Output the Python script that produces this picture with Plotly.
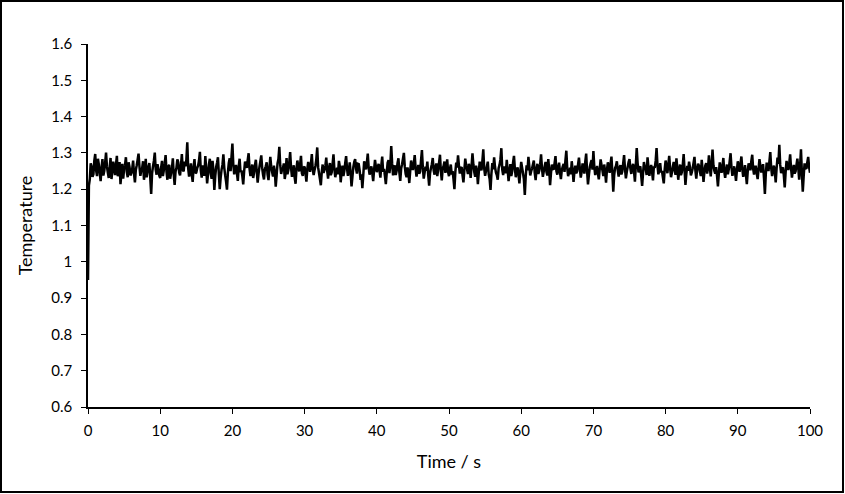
import plotly.graph_objects as go

# Temperature trace, one reading every 0.125 s
temperature = [
    0.95, 1.21, 1.228, 1.271, 1.262, 1.234, 1.241, 1.279, 1.297, 1.252, 1.236, 1.284, 1.268, 1.245, 1.222, 1.259, 1.283, 1.238, 1.25, 1.273,
    1.301, 1.262, 1.245, 1.231, 1.259, 1.286, 1.228, 1.249, 1.276, 1.257, 1.239, 1.268, 1.292, 1.236, 1.247, 1.275, 1.214, 1.243, 1.27, 1.229,
    1.255, 1.266, 1.288, 1.247, 1.233, 1.274, 1.261, 1.238, 1.244, 1.256, 1.279, 1.242, 1.219, 1.253, 1.266, 1.281, 1.298, 1.263, 1.237, 1.251,
    1.258, 1.277, 1.226, 1.245, 1.284, 1.233, 1.249, 1.262, 1.272, 1.231, 1.187, 1.244, 1.263, 1.278, 1.301, 1.254, 1.24, 1.269, 1.256, 1.237,
    1.231, 1.259, 1.278, 1.236, 1.252, 1.271, 1.294, 1.248, 1.226, 1.263, 1.267, 1.229, 1.243, 1.257, 1.285, 1.241, 1.212, 1.248, 1.259, 1.282,
    1.274, 1.246, 1.238, 1.265, 1.297, 1.253, 1.249, 1.276, 1.263, 1.281, 1.329, 1.258, 1.235, 1.247, 1.271, 1.239, 1.22, 1.261, 1.283, 1.244,
    1.246, 1.258, 1.265, 1.279, 1.303, 1.251, 1.232, 1.266, 1.257, 1.237, 1.291, 1.255, 1.216, 1.242, 1.269, 1.284, 1.243, 1.229, 1.278, 1.252,
    1.198, 1.236, 1.261, 1.273, 1.288, 1.241, 1.2, 1.232, 1.254, 1.267, 1.296, 1.259, 1.238, 1.221, 1.199, 1.246, 1.272, 1.285, 1.25, 1.289,
    1.326, 1.268, 1.241, 1.255, 1.267, 1.244, 1.223, 1.262, 1.284, 1.247, 1.252, 1.236, 1.213, 1.249, 1.276, 1.264, 1.259, 1.281, 1.299, 1.256,
    1.236, 1.252, 1.268, 1.231, 1.245, 1.266, 1.281, 1.249, 1.218, 1.243, 1.262, 1.277, 1.293, 1.258, 1.239, 1.227, 1.256, 1.263, 1.274, 1.24,
    1.225, 1.257, 1.289, 1.262, 1.247, 1.235, 1.265, 1.248, 1.207, 1.238, 1.271, 1.283, 1.317, 1.266, 1.242, 1.254, 1.258, 1.271, 1.228, 1.245,
    1.286, 1.241, 1.253, 1.274, 1.302, 1.259, 1.234, 1.248, 1.266, 1.232, 1.215, 1.257, 1.279, 1.262, 1.249, 1.268, 1.292, 1.244, 1.237, 1.26,
    1.262, 1.243, 1.221, 1.256, 1.275, 1.261, 1.248, 1.27, 1.297, 1.255, 1.239, 1.252, 1.264, 1.283, 1.315, 1.26, 1.244, 1.228, 1.211, 1.247,
    1.268, 1.245, 1.253, 1.264, 1.287, 1.251, 1.229, 1.258, 1.272, 1.239, 1.246, 1.269, 1.296, 1.255, 1.233, 1.247, 1.259, 1.241, 1.278, 1.263,
    1.219, 1.248, 1.265, 1.236, 1.25, 1.272, 1.291, 1.257, 1.237, 1.249, 1.274, 1.246, 1.208, 1.234, 1.261, 1.275, 1.283, 1.256, 1.243, 1.27,
    1.269, 1.252, 1.226, 1.241, 1.203, 1.238, 1.277, 1.261, 1.255, 1.273, 1.298, 1.259, 1.24, 1.254, 1.263, 1.244, 1.222, 1.253, 1.281, 1.262,
    1.247, 1.259, 1.27, 1.251, 1.232, 1.266, 1.29, 1.248, 1.256, 1.237, 1.214, 1.245, 1.273, 1.28, 1.244, 1.267, 1.319, 1.271, 1.238, 1.255,
    1.266, 1.239, 1.251, 1.272, 1.285, 1.246, 1.223, 1.257, 1.269, 1.284, 1.3, 1.262, 1.242, 1.233, 1.26, 1.248, 1.217, 1.25, 1.279, 1.264,
    1.253, 1.27, 1.294, 1.258, 1.235, 1.249, 1.267, 1.243, 1.248, 1.279, 1.308, 1.26, 1.229, 1.246, 1.262, 1.251, 1.276, 1.238, 1.21, 1.244,
    1.258, 1.269, 1.286, 1.252, 1.24, 1.261, 1.271, 1.236, 1.254, 1.273, 1.295, 1.249, 1.224, 1.257, 1.264, 1.276, 1.245, 1.262, 1.282, 1.247,
    1.236, 1.255, 1.268, 1.241, 1.25, 1.228, 1.2, 1.247, 1.273, 1.26, 1.293, 1.265, 1.243, 1.258, 1.261, 1.238, 1.219, 1.252, 1.284, 1.266,
    1.255, 1.242, 1.27, 1.258, 1.231, 1.263, 1.299, 1.268, 1.247, 1.234, 1.265, 1.251, 1.214, 1.246, 1.276, 1.259, 1.252, 1.278, 1.31, 1.257,
    1.237, 1.25, 1.263, 1.276, 1.241, 1.229, 1.198, 1.243, 1.272, 1.255, 1.288, 1.261, 1.246, 1.239, 1.226, 1.258, 1.267, 1.282, 1.313, 1.254,
    1.239, 1.262, 1.258, 1.244, 1.281, 1.253, 1.222, 1.247, 1.269, 1.236, 1.249, 1.274, 1.292, 1.256, 1.233, 1.251, 1.26, 1.241, 1.216, 1.248,
    1.275, 1.259, 1.244, 1.227, 1.184, 1.235, 1.266, 1.252, 1.289, 1.263, 1.238, 1.249, 1.257, 1.268, 1.279, 1.245, 1.225, 1.256, 1.27, 1.242,
    1.251, 1.267, 1.296, 1.258, 1.234, 1.249, 1.263, 1.275, 1.247, 1.238, 1.283, 1.255, 1.211, 1.244, 1.268, 1.257, 1.254, 1.272, 1.291, 1.25,
    1.24, 1.261, 1.273, 1.246, 1.228, 1.253, 1.262, 1.27, 1.248, 1.279, 1.306, 1.258, 1.236, 1.247, 1.259, 1.241, 1.277, 1.253, 1.22, 1.249,
    1.265, 1.244, 1.25, 1.268, 1.287, 1.256, 1.232, 1.248, 1.271, 1.259, 1.243, 1.276, 1.298, 1.25, 1.213, 1.239, 1.261, 1.272, 1.28, 1.254,
    1.305, 1.262, 1.239, 1.251, 1.264, 1.243, 1.227, 1.255, 1.282, 1.267, 1.252, 1.236, 1.268, 1.247, 1.218, 1.253, 1.274, 1.261, 1.245, 1.27,
    1.29, 1.247, 1.193, 1.238, 1.258, 1.264, 1.277, 1.252, 1.235, 1.259, 1.266, 1.241, 1.249, 1.271, 1.294, 1.256, 1.23, 1.248, 1.261, 1.275,
    1.283, 1.257, 1.242, 1.261, 1.27, 1.249, 1.221, 1.266, 1.313, 1.272, 1.246, 1.258, 1.263, 1.237, 1.209, 1.244, 1.275, 1.262, 1.255, 1.239,
    1.288, 1.26, 1.237, 1.254, 1.267, 1.248, 1.224, 1.263, 1.259, 1.278, 1.313, 1.265, 1.241, 1.253, 1.272, 1.246, 1.25, 1.233, 1.216, 1.255,
    1.279, 1.262, 1.244, 1.268, 1.292, 1.257, 1.233, 1.246, 1.262, 1.275, 1.253, 1.24, 1.285, 1.258, 1.226, 1.25, 1.268, 1.239, 1.247, 1.266,
    1.297, 1.254, 1.212, 1.243, 1.264, 1.251, 1.276, 1.261, 1.238, 1.246, 1.257, 1.273, 1.289, 1.252, 1.229, 1.256, 1.27, 1.264, 1.249, 1.236,
    1.281, 1.255, 1.22, 1.248, 1.265, 1.272, 1.243, 1.258, 1.293, 1.261, 1.235, 1.267, 1.309, 1.266, 1.251, 1.243, 1.261, 1.237, 1.208, 1.244,
    1.274, 1.258, 1.245, 1.263, 1.286, 1.249, 1.231, 1.252, 1.268, 1.241, 1.255, 1.277, 1.299, 1.26, 1.237, 1.249, 1.263, 1.246, 1.223, 1.252,
    1.277, 1.26, 1.248, 1.271, 1.29, 1.255, 1.234, 1.247, 1.266, 1.24, 1.214, 1.249, 1.271, 1.264, 1.252, 1.278, 1.295, 1.257, 1.24, 1.262,
    1.262, 1.243, 1.228, 1.256, 1.283, 1.264, 1.246, 1.258, 1.269, 1.232, 1.187, 1.241, 1.273, 1.262, 1.25, 1.276, 1.302, 1.259, 1.236, 1.253,
    1.265, 1.249, 1.219, 1.258, 1.287, 1.27, 1.322, 1.267, 1.244, 1.255, 1.26, 1.238, 1.205, 1.247, 1.278, 1.261, 1.253, 1.271, 1.296, 1.258,
    1.232, 1.251, 1.267, 1.243, 1.249, 1.266, 1.284, 1.259, 1.226, 1.262, 1.31, 1.245, 1.193, 1.236, 1.271, 1.258, 1.256, 1.274, 1.289, 1.261,
    1.245,
]
sample_step = 0.125
time_s = [i * sample_step for i in range(len(temperature))]

FONT = "Lato, 'Liberation Sans', sans-serif"

fig = go.Figure()

fig.add_trace(go.Scatter(
    x=time_s,
    y=temperature,
    mode="lines",
    line=dict(color="black", width=2.5, simplify=False),
    showlegend=False,
))

# border round the whole chart (Excel style)
fig.add_shape(
    type="rect", xref="paper", yref="paper",
    x0=-0.1205, x1=1.0457, y0=-0.2342, y1=1.1185,
    line=dict(color="black", width=2),
)

fig.update_layout(
    width=845,
    height=494,
    margin=dict(l=88, r=35, t=44, b=87),
    paper_bgcolor="white",
    plot_bgcolor="white",
    font=dict(family=FONT, size=15, color="black"),
    xaxis=dict(
        range=[0, 100],
        dtick=10,
        showgrid=False,
        zeroline=False,
        showline=True,
        linecolor="black",
        linewidth=1.5,
        ticks="outside",
        ticklen=5,
        tickcolor="black",
        ticklabelstandoff=4,
        title=dict(text="Time / s", standoff=18),
    ),
    yaxis=dict(
        range=[0.6, 1.6],
        dtick=0.1,
        showgrid=False,
        zeroline=False,
        showline=True,
        linecolor="black",
        linewidth=1.5,
        ticks="outside",
        ticklen=5,
        tickcolor="black",
        ticklabelstandoff=6,
        title=dict(text="Temperature", standoff=14),
    ),
)

# page has a default 8px body margin; drop it so the chart fills the window
fig.write_html(
    "out.html",
    config={"displayModeBar": False},
    post_script="document.body.style.margin='0';",
)
